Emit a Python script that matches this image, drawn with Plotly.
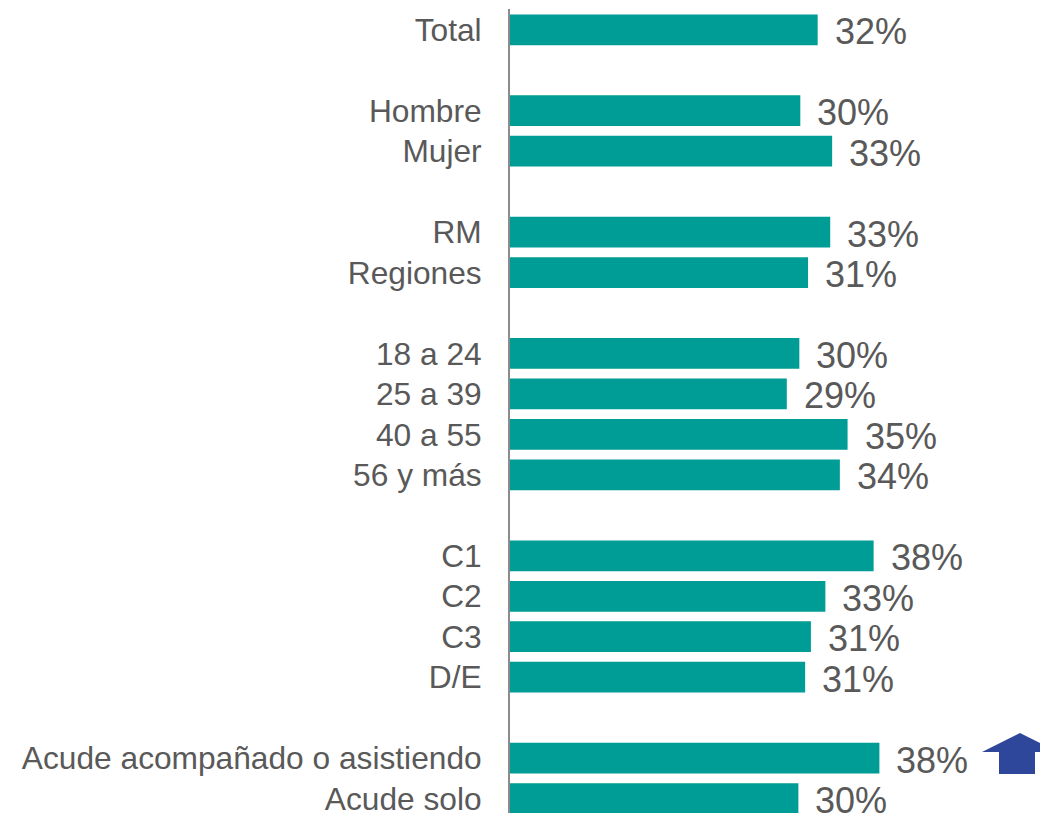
import plotly.graph_objects as go

# Data (labels show rounded percentages)
categories = ["Total", "Hombre", "Mujer", "RM", "Regiones",
              "18 a 24", "25 a 39", "40 a 55", "56 y más",
              "C1", "C2", "C3", "D/E",
              "Acude acompañado o asistiendo", "Acude solo"]
values = [31.9, 30.1, 33.4, 33.2, 30.9,
          30.0, 28.7, 35.0, 34.2,
          37.7, 32.7, 31.2, 30.6,
          38.3, 29.9]
labels = ["32%", "30%", "33%", "33%", "31%",
          "30%", "29%", "35%", "34%",
          "38%", "33%", "31%", "31%",
          "38%", "30%"]
# Axis order with blank spacer rows between groups
axis_order = ["Total", " ",
              "Hombre", "Mujer", "  ",
              "RM", "Regiones", "   ",
              "18 a 24", "25 a 39", "40 a 55", "56 y más", "    ",
              "C1", "C2", "C3", "D/E", "     ",
              "Acude acompañado o asistiendo", "Acude solo"]

W, H = 1040, 813
ML, MR, MT, MB = 510, 0, 9, 0
BAR = "#009C96"
TXT = "#595959"
FONT = "Liberation Sans, Arial, sans-serif"

fig = go.Figure(go.Bar(
    y=categories, x=values, orientation="h",
    marker=dict(color=BAR, line=dict(width=0)),
    width=0.76, hoverinfo="skip",
))

for c, v, t in zip(categories, values, labels):
    fig.add_annotation(x=v, y=c, text=t, showarrow=False,
                       xanchor="left", yanchor="middle", xshift=15, yshift=-2,
                       font=dict(family=FONT, size=36, color=TXT))

# up arrow marker (pixel coords -> paper)
pw, ph = W - ML - MR, H - MT - MB
def px(x):
    return (x - ML) / pw
def py(y):
    return (H - MB - y) / ph
pts = [(1020, 733), (1058, 752), (1035, 752), (1035, 774),
       (999, 774), (999, 752), (982, 752)]
path = "M " + " L ".join(f"{px(a):.5f},{py(b):.5f}" for a, b in pts) + " Z"
fig.add_shape(type="path", path=path, xref="paper", yref="paper",
              fillcolor="#2E479A", line=dict(width=0))

fig.update_layout(
    width=W, height=H,
    margin=dict(l=ML, r=MR, t=MT, b=MB, pad=0, autoexpand=False),
    plot_bgcolor="white", paper_bgcolor="white",
    showlegend=False, hovermode=False,
    xaxis=dict(range=[0, 530 / 9.645], visible=False, fixedrange=True,
               automargin=False),
    yaxis=dict(type="category", categoryorder="array", categoryarray=axis_order,
               range=[19.357, -0.514], showgrid=False, zeroline=False,
               showline=True, linecolor="#8C8C8C", linewidth=2,
               ticks="", ticklabelstandoff=20, fixedrange=True, automargin=False,
               tickfont=dict(family=FONT, size=31.7, color=TXT)),
)

fig.write_html("out.html", config={"displayModeBar": False, "staticPlot": True},
               post_script="document.body.style.margin='0';document.body.style.overflow='hidden';")
